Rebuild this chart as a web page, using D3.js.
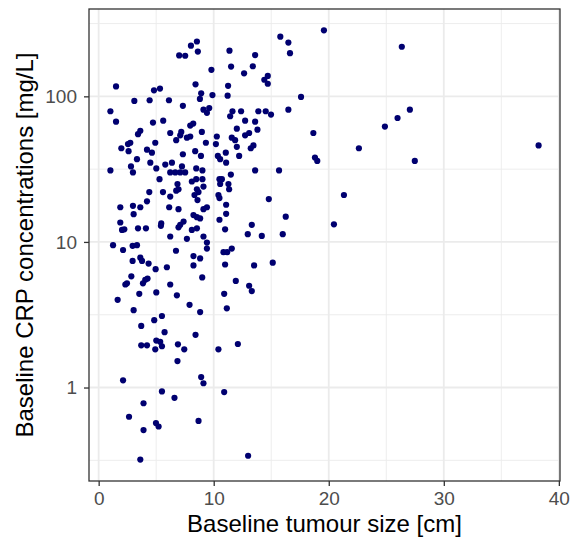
<!DOCTYPE html>
<html>
<head>
<meta charset="utf-8">
<script src="https://cdn.jsdelivr.net/npm/d3@7"></script>
<style>
  body { margin: 0; background: #fff; }
  svg { display: block; }
  text { font-family: "Liberation Sans", Arial, Helvetica, sans-serif; }
</style>
</head>
<body>
<div id="chart"></div>
<script>
// baseline tumour size [cm] and CRP [mg/L]
const tumourSize = [
  8.54, 8.02, 8.62, 7.00, 7.52, 11.37, 9.80, 11.51, 1.51, 4.81, 5.33, 8.42, 11.25,
  3.10, 4.43, 6.11, 7.32, 8.91, 8.80, 9.89, 11.21, 1.02, 1.51, 4.72, 5.61, 9.11,
  9.61, 9.41, 7.96, 8.22, 11.43,
  3.62, 3.42, 6.22, 7.18, 7.09, 7.96, 7.67, 8.97, 6.74, 4.92, 9.32, 10.27, 10.19,
  2.75, 2.55, 1.97, 2.60, 4.20, 4.63, 7.32, 8.39, 8.89, 10.36, 10.56, 11.05, 3.33,
  4.49, 2.81, 2.98, 1.02, 5.01, 5.79, 6.37, 7.24, 6.22, 6.66, 7.09, 7.52, 8.48,
  9.02, 5.29, 6.85, 6.94, 6.74, 8.10, 8.48, 9.02, 9.11, 8.54, 8.68, 8.33, 8.59,
  10.50, 10.71, 10.56, 10.41, 10.50, 4.40, 4.20, 5.59, 6.22, 1.88, 2.98, 3.62,
  3.04, 6.13, 6.94, 9.11, 9.41, 8.24, 8.54, 8.82, 10.50, 11.08, 1.88, 2.03, 2.23,
  3.42, 4.11, 5.44, 5.41, 7.09, 7.38, 6.94, 8.10, 8.54, 6.22, 7.67, 9.11, 10.99,
  9.41, 9.41, 1.25, 2.12, 2.95, 3.33, 6.72, 8.24, 8.82, 8.24, 10.85, 11.17, 10.99,
  2.95, 3.62, 3.77, 4.34, 4.95, 5.93, 2.84, 2.32, 2.46, 3.85, 4.05, 4.25, 9.00,
  6.22, 3.53, 5.01, 6.80, 10.91, 1.65, 7.90, 3.04, 8.82, 11.14, 4.83, 5.50, 3.70,
  5.73, 8.42, 5.01, 5.35, 5.50, 3.70, 4.20, 4.92, 6.89, 7.44, 10.41,
  6.85, 2.12, 8.91, 9.11, 5.50, 6.59, 10.91, 3.90, 2.64, 4.98, 5.21, 3.90, 8.68, 3.62,
  19.58, 15.79, 16.49, 16.63, 13.60, 13.40, 12.64, 14.70, 14.40, 14.70, 17.59,
  11.63, 12.38, 13.88, 14.52, 14.98, 16.49, 12.73, 13.60,
  12.01, 13.80, 11.57, 11.86, 12.73, 13.08, 12.01, 13.22, 13.45, 12.21, 11.08,
  18.66, 18.80, 19.00, 13.60, 15.68, 11.49, 11.28, 11.34, 21.32, 14.79, 11.08,
  16.26, 13.31, 12.96, 14.18, 16.00, 20.45,
  11.57, 13.51, 15.13, 11.92, 13.08, 13.31, 12.10, 12.99,
  26.35, 24.88, 25.98, 27.05, 27.48, 22.62, 38.24
];
const crp = [
  238, 223, 203, 191, 190, 206, 152, 160, 117, 110, 113, 121, 118,
  93, 94, 94, 86, 105, 96, 102, 101, 79, 67, 66, 68, 81,
  83, 77, 63, 65, 73,
  58, 55, 56, 57, 54, 53, 52, 57, 50, 48, 48, 53, 47,
  48, 47, 44, 42, 43, 41, 40, 42, 39, 39, 37, 41, 37,
  35, 33, 30, 31, 32, 34, 35, 33, 30, 30, 30, 30, 32,
  31, 27, 25, 23, 22.5, 26, 27, 27, 24, 23, 22, 21, 19.4,
  27, 27, 25, 21, 20, 22, 19, 22, 20.5, 17.3, 17.7, 17.3,
  15.5, 17.3, 16.8, 16.8, 17.3, 15.3, 14.8, 14.5, 14.2, 15.6, 13.6, 12.1, 12.2,
  12.4, 12.4, 13.4, 12.9, 13.1, 13.8, 12.6, 12.1, 12.4, 10.9, 10.5, 10.9, 12.2,
  9.9, 9.0, 9.5, 8.8, 9.4, 9.5, 8.7, 8.0, 7.7, 6.9, 8.5, 8.5, 7.0,
  7.4, 7.8, 7.4, 7.1, 6.5, 6.7, 5.8, 5.1, 5.2, 5.2, 5.5, 5.6, 5.7,
  5.1, 4.4, 4.5, 4.3, 4.4, 4.0, 3.7, 3.4, 3.3, 3.5, 2.9, 3.1, 2.65,
  2.4, 2.3, 2.1, 2.06, 1.92, 1.95, 1.95, 1.83, 1.98, 1.83, 1.83,
  1.52, 1.12, 1.18, 1.07, 0.94, 0.85, 0.93, 0.78, 0.63, 0.57, 0.54, 0.51, 0.59, 0.32,
  284, 257, 234, 198, 192, 161, 144, 138, 130, 122, 99,
  79, 79, 79, 79, 75, 81, 68, 67,
  60, 59, 52, 50, 54, 56, 45, 44, 46, 39, 35,
  56, 38, 36, 31, 31, 29, 25, 23, 21, 19.7, 18,
  14.9, 13.1, 11.3, 11.0, 11.3, 13.2,
  9.0, 6.9, 7.2, 5.4, 5.0, 4.6, 1.99, 0.34,
  219, 62, 71, 81, 36, 44, 46
];
const xTicks = [0, 10, 20, 30, 40];
const xMinor = [5, 15, 25, 35];
const yTicks = [1, 10, 100];
const yMinor = [0.316, 3.16, 31.6, 316];

const dataset = tumourSize.map((d, i) => ({size: d, crp: crp[i]}));

var margin = {top: 9, right: 11, bottom: 60, left: 89};
var width = 571 - margin.left - margin.right,
    height = 541 - margin.top - margin.bottom;

var svg = d3.select("#chart")
    .append("svg")
    .attr("width", 571)
    .attr("height", 541);

const chart = svg.append("g")
    .attr("transform", `translate(${margin.left}, ${margin.top})`);

const xScale = d3.scaleLinear()
    .domain([-0.84, 40.1])
    .range([0, width]);

const yScale = d3.scaleLog()
    .domain([0.228, 398])
    .range([height, 0]);

// grid lines, minor first
chart.selectAll(".xminor").data(xMinor).enter().append("line")
    .attr("x1", d => xScale(d)).attr("x2", d => xScale(d))
    .attr("y1", 0).attr("y2", height)
    .style("stroke", "#ebebeb").style("stroke-width", 0.9);
chart.selectAll(".yminor").data(yMinor).enter().append("line")
    .attr("y1", d => yScale(d)).attr("y2", d => yScale(d))
    .attr("x1", 0).attr("x2", width)
    .style("stroke", "#ebebeb").style("stroke-width", 0.9);
chart.selectAll(".xmajor").data(xTicks).enter().append("line")
    .attr("x1", d => xScale(d)).attr("x2", d => xScale(d))
    .attr("y1", 0).attr("y2", height)
    .style("stroke", "#ebebeb").style("stroke-width", 1.8);
chart.selectAll(".ymajor").data(yTicks).enter().append("line")
    .attr("y1", d => yScale(d)).attr("y2", d => yScale(d))
    .attr("x1", 0).attr("x2", width)
    .style("stroke", "#ebebeb").style("stroke-width", 1.8);

chart.selectAll(".dot")
    .data(dataset)
    .enter()
    .append("circle")
    .attr("class", "dot")
    .attr("cx", d => xScale(d.size))
    .attr("cy", d => yScale(d.crp))
    .attr("r", 3.1)
    .style("fill", "#000070");

chart.append("rect")
    .attr("width", width)
    .attr("height", height)
    .style("fill", "none")
    .style("stroke", "#333333")
    .style("stroke-width", 1.3);

const xAxis = chart.append("g")
    .attr("transform", `translate(0, ${height})`)
    .call(d3.axisBottom(xScale).tickValues(xTicks).tickSize(5).tickPadding(6).tickFormat(d3.format("d")));

const yAxis = chart.append("g")
    .call(d3.axisLeft(yScale).tickValues(yTicks).tickSize(5).tickPadding(7).tickFormat(d3.format("d")));

[xAxis, yAxis].forEach(ax => {
    ax.select(".domain").remove();
    ax.selectAll(".tick line").style("stroke", "#333333").style("stroke-width", 1.3);
    ax.selectAll(".tick text")
        .style("fill", "#4d4d4d")
        .style("font-size", "19px")
        .style("font-family", "'Liberation Sans', Arial, sans-serif");
});

svg.append("text")
    .attr("x", margin.left + width / 2)
    .attr("y", 532)
    .attr("text-anchor", "middle")
    .style("font-size", "24px")
    .style("fill", "#000")
    .text("Baseline tumour size [cm]");

svg.append("text")
    .attr("transform", `translate(33, ${margin.top + height / 2}) rotate(-90)`)
    .attr("text-anchor", "middle")
    .style("font-size", "24px")
    .style("fill", "#000")
    .text("Baseline CRP concentrations [mg/L]");
</script>
</body>
</html>
